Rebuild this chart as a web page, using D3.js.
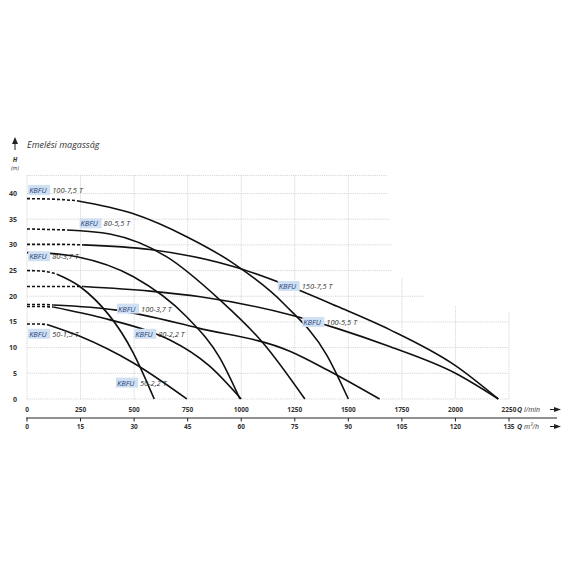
<!DOCTYPE html>
<html>
<head>
<meta charset="utf-8">
<script src="https://cdn.jsdelivr.net/npm/d3@7"></script>
<style>
  body { margin: 0; background: #fff; }
  text { font-family: "Open Sans", "DejaVu Sans", sans-serif; }
</style>
</head>
<body>
<svg id="chart" width="570" height="570"></svg>
<script>
// flow ticks (l/min) and matching m3/h ticks
const qTicks = [0, 250, 500, 750, 1000, 1250, 1500, 1750, 2000, 2250];
const m3Ticks = [0, 15, 30, 45, 60, 75, 90, 105, 120, 135];
const hTicks = [0, 5, 10, 15, 20, 25, 30, 35, 40];

// pump curves [Q l/min, H m]
const c1007 = [[0, 39.0], [120, 38.9], [233, 38.6], [494, 36.1], [750, 31.5], [960, 26.5], [1200, 18.5], [1400, 8.5], [1500, 0]];
const c805 = [[0, 33.1], [100, 33.0], [187, 32.9], [387, 32.1], [651, 27.7], [900, 19.3], [1100, 11.0], [1297, 0]];
const c1507 = [[0, 30.1], [150, 30.1], [263, 30.0], [574, 29.1], [963, 25.8], [1227, 21.9], [1450, 18.0], [1693, 13.5], [2000, 6.5], [2200, 0]];
const c803 = [[0, 28.5], [93, 28.4], [233, 27.7], [497, 23.8], [745, 16.0], [900, 8.0], [994, 0]];
const c502 = [[0, 25.0], [70, 24.9], [140, 24.3], [247, 21.9], [497, 8.9], [594, 0]];
const c1005 = [[0, 21.9], [150, 21.9], [263, 21.9], [574, 21.0], [809, 19.9], [1227, 16.4], [1450, 13.7], [1693, 10.2], [2000, 5.0], [2200, 0]];
const c1003 = [[0, 18.4], [60, 18.4], [123, 18.3], [419, 17.3], [800, 13.8], [1227, 9.3], [1400, 5.7], [1646, 0]];
const c802 = [[0, 18.0], [60, 18.0], [123, 17.9], [350, 15.8], [575, 13.1], [667, 11.5], [850, 6.5], [1000, 0]];
const c501 = [[0, 14.6], [50, 14.6], [93, 14.5], [247, 12.2], [497, 7.0], [746, 0]];

const curves = [
  { name: '100-7,5 T', pts: c1007, dashEnd: 233, lab: [10, 40.3] },
  { name: '80-5,5 T', pts: c805, dashEnd: 187, lab: [250, 33.8] },
  { name: '150-7,5 T', pts: c1507, dashEnd: 263, lab: [1175, 21.6] },
  { name: '80-3,7 T', pts: c803, dashEnd: 93, lab: [10, 27.4] },
  { name: '50-2,2 T', pts: c502, dashEnd: 140, lab: [420, 2.8] },
  { name: '100-5,5 T', pts: c1005, dashEnd: 263, lab: [1290, 14.6] },
  { name: '100-3,7 T', pts: c1003, dashEnd: 123, lab: [425, 17.2] },
  { name: '80-2,2 T', pts: c802, dashEnd: 123, lab: [505, 12.3] },
  { name: '50-1,5 T', pts: c501, dashEnd: 93, lab: [10, 12.3] }
];

const svg = d3.select('#chart');
const x = d3.scaleLinear().domain([0, 2250]).range([27, 509]);
const y = d3.scaleLinear().domain([0, 40]).range([399, 193.5]);

// grid - staircase right edges
const hRight = { 0: 2250, 5: 2250, 10: 2250, 15: 2250, 20: 1855, 25: 1705, 30: 1705, 35: 1690, 40: 1685, 43.5: 1683 };
const grid = svg.append('g').attr('stroke', '#bbb').attr('stroke-width', 0.6).attr('stroke-dasharray', '1.2,1');
Object.keys(hRight).forEach(k => {
  grid.append('line').attr('x1', x(0)).attr('x2', x(hRight[k]))
    .attr('y1', y(+k)).attr('y2', y(+k));
});
const vTop = { 1750: 23.5, 2000: 18.0, 2250: 17.0 };
qTicks.forEach(q => {
  grid.append('line').attr('x1', x(q)).attr('x2', x(q))
    .attr('y1', y(vTop[q] || 43.5)).attr('y2', y(0));
});

// curves
const line = d3.line().x(d => x(d[0])).y(d => y(d[1])).curve(d3.curveMonotoneX);
const cg = svg.append('g').attr('fill', 'none').attr('stroke', '#111').attr('stroke-width', 1.6);
curves.forEach(c => {
  const dash = c.pts.filter(p => p[0] <= c.dashEnd);
  const solid = c.pts.filter(p => p[0] >= c.dashEnd);
  cg.append('path').attr('d', line(dash)).attr('stroke-dasharray', '3,2');
  cg.append('path').attr('d', line(solid));
});

// labels
curves.forEach(c => {
  const g = svg.append('g').attr('transform', `translate(${x(c.lab[0])},${y(c.lab[1])})`);
  g.append('rect').attr('x', -1).attr('y', -7).attr('width', 22).attr('height', 10).attr('fill', '#cfe0f3');
  g.append('text').attr('x', 0).attr('y', 1).attr('font-size', 7.5).attr('font-style', 'italic')
    .attr('fill', '#1f3f7a').text('KBFU');
  g.append('text').attr('x', 23).attr('y', 1).attr('font-size', 7.5).attr('font-style', 'italic')
    .attr('fill', '#333').text(c.name);
});

// y axis labels
svg.append('g').selectAll('text').data(hTicks).join('text')
  .attr('x', 17).attr('y', d => y(d) + 2.5).attr('text-anchor', 'end')
  .attr('font-size', 7).attr('font-weight', 'bold').attr('fill', '#333').text(d => d);
svg.append('text').attr('x', 15).attr('y', 162).attr('text-anchor', 'middle')
  .attr('font-size', 6.5).attr('font-weight', 'bold').attr('font-style', 'italic').attr('fill', '#333').text('H');
svg.append('text').attr('x', 15).attr('y', 170).attr('text-anchor', 'middle')
  .attr('font-size', 5.5).attr('font-style', 'italic').attr('fill', '#333').text('(m)');
svg.append('line').attr('x1', 15).attr('x2', 15).attr('y1', 150).attr('y2', 142)
  .attr('stroke', '#222').attr('stroke-width', 1);
svg.append('path').attr('d', 'M12,144 L15,137 L18,144 Z').attr('fill', '#222');
svg.append('text').attr('x', 27).attr('y', 148).attr('font-size', 9).attr('font-style', 'italic')
  .attr('fill', '#333').text('Emelési magasság');

// x axes
svg.append('g').selectAll('text').data(qTicks).join('text')
  .attr('x', d => x(d)).attr('y', 412).attr('text-anchor', 'middle')
  .attr('font-size', 6.5).attr('font-weight', 'bold').attr('fill', '#333').text(d => d);
svg.append('line').attr('x1', 26).attr('x2', 557).attr('y1', 418).attr('y2', 418)
  .attr('stroke', '#222').attr('stroke-width', 1);
svg.append('g').selectAll('line').data(qTicks).join('line')
  .attr('x1', d => x(d)).attr('x2', d => x(d)).attr('y1', 418).attr('y2', 421.5)
  .attr('stroke', '#222').attr('stroke-width', 1);
svg.append('g').selectAll('text').data(m3Ticks).join('text')
  .attr('x', (d, i) => x(qTicks[i])).attr('y', 429).attr('text-anchor', 'middle')
  .attr('font-size', 6.5).attr('font-weight', 'bold').attr('fill', '#333').text(d => d);

function unit(yy, main, rest) {
  const t = svg.append('text').attr('x', 517).attr('y', yy).attr('font-size', 7).attr('fill', '#333');
  t.append('tspan').attr('font-weight', 'bold').attr('font-style', 'italic').text(main);
  t.append('tspan').attr('font-style', 'italic').text(rest);
  svg.append('line').attr('x1', 550).attr('x2', 557).attr('y1', yy - 2.5).attr('y2', yy - 2.5).attr('stroke', '#222');
  svg.append('path').attr('d', `M554,${yy - 5} L561,${yy - 2.5} L554,${yy} Z`).attr('fill', '#222');
}
unit(412, 'Q ', 'l/min');
unit(429, 'Q ', 'm³/h');
</script>
</body>
</html>
